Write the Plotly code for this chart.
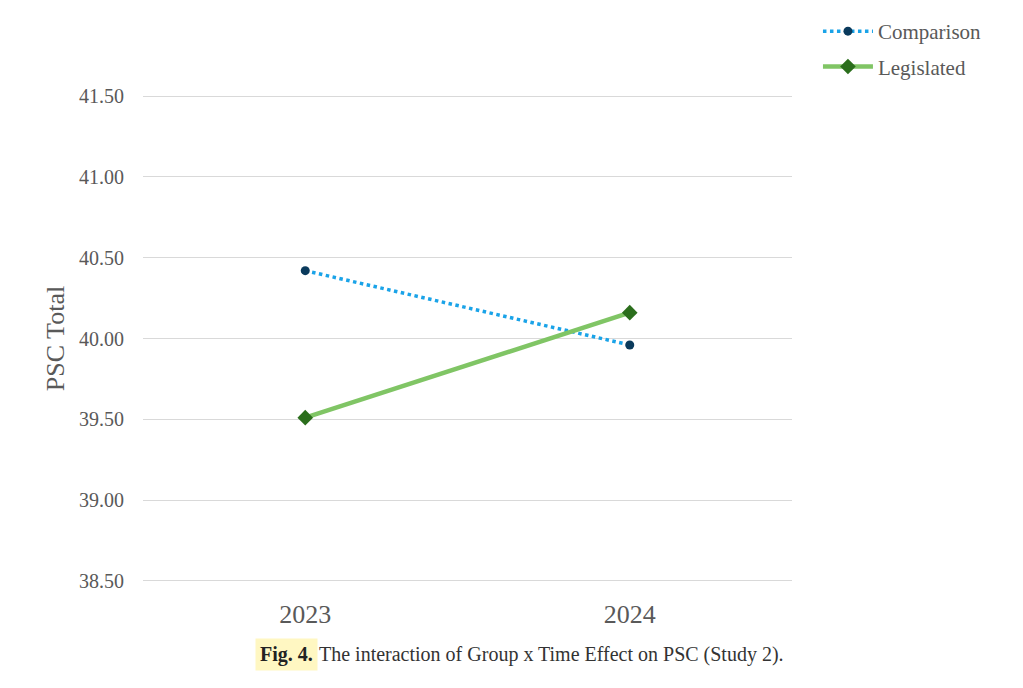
import plotly.graph_objects as go

years = ["2023", "2024"]
comparison = [40.42, 39.96]
legislated = [39.51, 40.16]
y_ticks = [38.5, 39.0, 39.5, 40.0, 40.5, 41.0, 41.5]
y_tick_labels = ["38.50", "39.00", "39.50", "40.00", "40.50", "41.00", "41.50"]

serif = "Liberation Serif"

fig = go.Figure()
fig.add_trace(go.Scatter(
    x=years, y=comparison, name="Comparison", mode="lines+markers",
    legendgroup="a",
    line=dict(color="#1aa3e8", width=3.5, dash="dot"),
    marker=dict(symbol="circle", size=9, color="#0a3a5c"),
))
fig.add_trace(go.Scatter(
    x=years, y=legislated, name="Legislated", mode="lines+markers",
    legendgroup="b",
    line=dict(color="#80c565", width=4.5),
    marker=dict(symbol="diamond", size=12, color="#2b6e1c"),
))

fig.update_layout(
    width=1015, height=680,
    margin=dict(l=135, r=231, t=85, b=104, autoexpand=False),
    paper_bgcolor="white", plot_bgcolor="white",
    showlegend=True,
    legend=dict(x=1.04, y=1.167, xref="paper", yref="paper",
                xanchor="left", yanchor="top",
                font=dict(family=serif, size=21, color="#595959"),
                itemwidth=50, tracegroupgap=5, bgcolor="rgba(0,0,0,0)"),
    xaxis=dict(type="category", range=[-0.5, 1.5], showgrid=False,
               showline=False, zeroline=False, ticks="outside", ticklen=7,
               tickcolor="rgba(0,0,0,0)",
               tickfont=dict(family=serif, size=26, color="#595959")),
    yaxis=dict(range=[38.48, 41.52], tickvals=y_ticks, ticktext=y_tick_labels,
               showgrid=True, gridcolor="#d9d9d9", gridwidth=1.3,
               zeroline=False, showline=False, ticks="outside", ticklen=14,
               tickcolor="rgba(0,0,0,0)",
               tickfont=dict(family=serif, size=20, color="#595959"),
               title=dict(text="PSC Total", standoff=6,
                          font=dict(family=serif, size=26, color="#595959"))),
)

fig.add_annotation(text="<b>Fig. 4.</b>", xref="paper", yref="paper",
                   x=0.172, y=-0.1446, xanchor="left", yanchor="middle",
                   showarrow=False, bgcolor="#fff7c2", borderpad=4,
                   font=dict(family=serif, size=20, color="#222222"))
fig.add_annotation(text="The interaction of Group x Time Effect on PSC (Study 2).",
                   xref="paper", yref="paper",
                   x=0.268, y=-0.1446, xanchor="left", yanchor="middle",
                   showarrow=False,
                   font=dict(family=serif, size=20, color="#333333"))

fig.write_html("out.html")
